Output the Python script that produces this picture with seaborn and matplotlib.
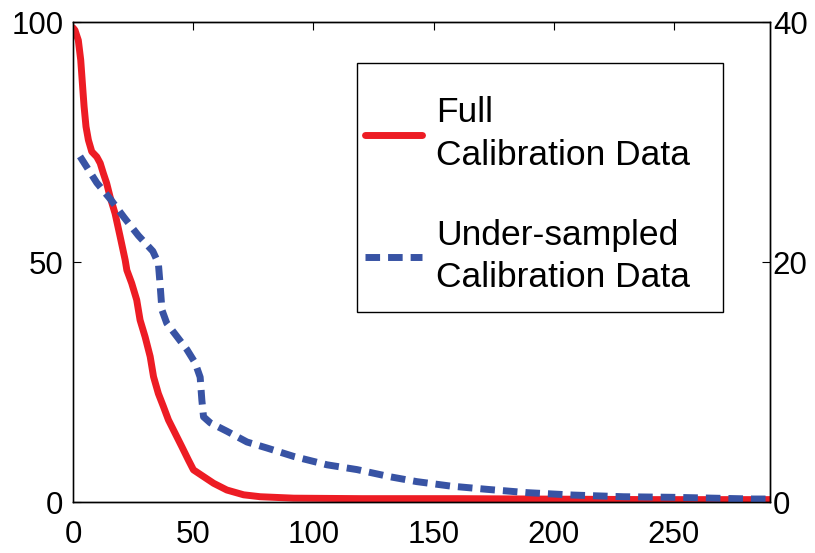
import numpy as np
import pandas as pd
import matplotlib
matplotlib.use("Agg")
import matplotlib.pyplot as plt
import seaborn as sns
from matplotlib.lines import Line2D
from matplotlib.patches import Rectangle

# full calibration data (left axis, 0-100)
full_x = [0, 0.8, 2.2, 3.2, 4.0, 4.6, 5.4, 6.4, 7.8, 9.9, 11.3, 12.6, 14.0, 15.4, 17.5,
          19.6, 21.7, 22.4, 24.4, 26.5, 27.9, 30.0, 32.1, 33.5, 35.5, 37.6, 39.7, 42.5,
          45.3, 48.0, 50.1, 54.3, 58.5, 64.0, 71.0, 77.9, 91.8, 120, 160, 200, 240, 290]
full_y = [98.8, 98.3, 96.2, 92.1, 86.5, 82.4, 78.2, 75.4, 73.0, 71.9, 70.6, 68.5, 66.4, 63.6, 60.1,
          55.3, 50.4, 48.3, 45.6, 42.1, 37.9, 34.4, 30.3, 26.1, 22.6, 19.9, 17.1, 14.3,
          11.5, 8.75, 6.7, 5.3, 3.9, 2.5, 1.5, 1.1, 0.8, 0.7, 0.7, 0.6, 0.5, 0.5]

# under-sampled calibration data (right axis, 0-40)
under_x = [2.9, 9.9, 15.7, 21.3, 27.2, 33.2, 35.5, 36.2, 37.0, 39.0, 43.2, 47.4, 50.8, 52.9,
           53.6, 54.3, 57.1, 64.0, 72.4, 80.7, 91.8, 105.7, 118.2, 132, 143, 157, 172, 189,
           208, 229, 250, 283, 290]
under_y = [28.8, 26.6, 25.2, 23.7, 22.2, 20.9, 19.9, 18.2, 16.0, 14.9, 13.8, 12.7, 11.6, 10.4,
           8.5, 7.1, 6.6, 5.9, 5.0, 4.5, 3.8, 3.1, 2.7, 2.1, 1.7, 1.33, 1.06, 0.78,
           0.58, 0.44, 0.39, 0.25, 0.25]

labels = ["Full\nCalibration Data", "Under-sampled\nCalibration Data"]

red = "#ED1C24"
blue = "#3853A4"
dash = [2.1, 1.15]

sns.set_style("white")
plt.rcParams['font.family'] = ['Liberation Sans', 'DejaVu Sans']

fig = plt.figure(figsize=(8.15, 5.53), dpi=100)
ax = fig.add_axes([0.0896, 0.0922, 0.8552, 0.8680])
ax2 = ax.twinx()

df_full = pd.DataFrame({"x": full_x, "y": full_y})
df_under = pd.DataFrame({"x": under_x, "y": under_y})

sns.lineplot(data=df_full, x="x", y="y", ax=ax, color=red, linewidth=5, sort=False,
             estimator=None)
sns.lineplot(data=df_under, x="x", y="y", ax=ax2, color=blue, linewidth=5, sort=False,
             estimator=None)
ax2.lines[0].set_dashes(dash)

ax.set_xlim(0, 290)
ax.set_ylim(0, 100)
ax2.set_ylim(0, 40)
ax.set_xticks([0, 50, 100, 150, 200, 250])
ax.set_yticks([0, 50, 100])
ax2.set_yticks([0, 20, 40])
for a in (ax, ax2):
    a.set_xlabel("")
    a.set_ylabel("")
    a.tick_params(direction="in", length=6, width=0.8, labelsize=22.5, colors="black",
                  top=True)
    for s in a.spines.values():
        s.set_color("black")
        s.set_linewidth(1.0)
ax.tick_params(axis="x", pad=13)
ax.tick_params(axis="y", pad=7)
ax2.tick_params(axis="y", pad=2)
ax.spines["left"].set_color("#555555")

# legend frame
ax2.add_patch(Rectangle((0.4075, 0.396), 0.5251, 0.5186, transform=ax2.transAxes,
                        facecolor="white", edgecolor="black", linewidth=1.0, zorder=5))

handles = [Line2D([], [], color=red, linewidth=5),
           Line2D([], [], color=blue, linewidth=5, dashes=dash)]
leg = ax2.legend(handles, labels, loc="upper left", bbox_to_anchor=(0.419, 0.845),
                 fontsize=25.5, frameon=False, handlelength=1.6, handletextpad=0.4,
                 labelspacing=1.35, borderpad=0, borderaxespad=0)
leg.set_zorder(6)
for t in leg.get_texts():
    t.set_linespacing(1.35)
    t.set_color("black")

fig.savefig("out.png", dpi=100)
